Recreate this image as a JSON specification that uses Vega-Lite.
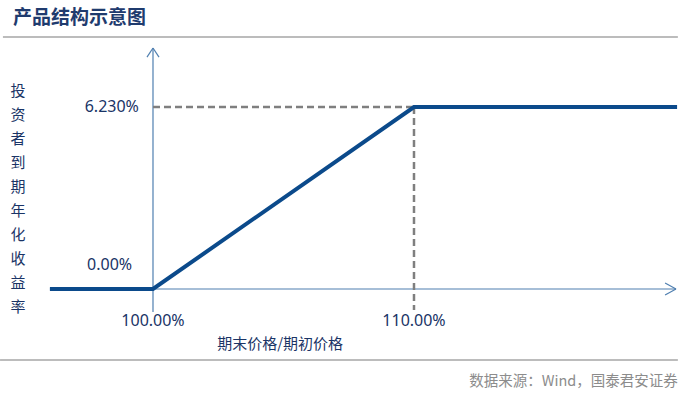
{
  "$schema": "https://vega.github.io/schema/vega-lite/v6.json",
  "width": 693,
  "height": 404,
  "autosize": "none",
  "padding": 0,
  "background": "white",
  "config": {"view": {"stroke": null}, "font": "Noto Sans CJK SC"},
  "datasets": {
    "heading": [
      {"x": 94.636, "y": 9.277, "label": "产品结构示意图"}
    ],
    "payoff": [
      {"ratio": 96.05, "ret": 0},
      {"ratio": 100, "ret": 0},
      {"ratio": 110, "ret": 6.23},
      {"ratio": 120.08, "ret": 6.23}
    ],
    "axes": [
      {"x1": 100, "y1": 8.25, "x2": 100, "y2": -0.787},
      {"x1": 96.05, "y1": 0, "x2": 120.04, "y2": 0},
      {"x1": 100, "y1": 8.25, "x2": 99.77, "y2": 7.94},
      {"x1": 100, "y1": 8.25, "x2": 100.23, "y2": 7.94},
      {"x1": 120.04, "y1": 0, "x2": 119.62, "y2": 0.205},
      {"x1": 120.04, "y1": 0, "x2": 119.62, "y2": -0.205}
    ],
    "guides": [
      {"x1": 100, "y1": 6.23, "x2": 110, "y2": 6.23},
      {"x1": 110, "y1": 6.23, "x2": 110, "y2": -0.72}
    ],
    "frames": [
      {"x1": 94.25, "y1": 8.626, "x2": 120.11, "y2": 8.626},
      {"x1": 94.14, "y1": -2.43, "x2": 120.11, "y2": -2.43}
    ],
    "ylabels": [
      {"x": 99.46, "y": 6.23, "label": "6.230%"},
      {"x": 99.2, "y": 0.82, "label": "0.00%"}
    ],
    "xlabels": [
      {"x": 100, "y": -1.095, "label": "100.00%"},
      {"x": 110, "y": -1.095, "label": "110.00%"}
    ],
    "xtitle": [
      {"x": 104.87, "y": -1.88, "label": "期末价格/期初价格"}
    ],
    "ytitle": [
      {"x": 94.83, "y": 7.02, "label": "投\n资\n者\n到\n期\n年\n化\n收\n益\n率"}
    ],
    "source": [
      {"x": 120.11, "y": -3.18, "label": "数据来源：Wind，国泰君安证券"}
    ]
  },
  "layer": [
    {
      "data": {"name": "frames"},
      "mark": {"type": "rule", "color": "#A6A6A6", "strokeWidth": 1.5},
      "encoding": {
        "x": {"field": "x1", "type": "quantitative", "scale": {"domain": [94.138, 120.69], "nice": false, "zero": false}, "axis": null},
        "y": {"field": "y1", "type": "quantitative", "scale": {"domain": [-3.937, 9.893], "nice": false, "zero": false}, "axis": null},
        "x2": {"field": "x2"},
        "y2": {"field": "y2"}
      }
    },
    {
      "data": {"name": "heading"},
      "mark": {"type": "text", "align": "left", "baseline": "middle", "fontSize": 19, "fontWeight": "bold", "color": "#1F3B6E"},
      "encoding": {
        "x": {"field": "x", "type": "quantitative"},
        "y": {"field": "y", "type": "quantitative"},
        "text": {"field": "label"}
      }
    },
    {
      "data": {"name": "axes"},
      "mark": {"type": "rule", "color": "#4F7FB0", "strokeWidth": 1.2},
      "encoding": {
        "x": {"field": "x1", "type": "quantitative"},
        "y": {"field": "y1", "type": "quantitative"},
        "x2": {"field": "x2"},
        "y2": {"field": "y2"}
      }
    },
    {
      "data": {"name": "guides"},
      "mark": {"type": "rule", "color": "#7F7F7F", "strokeWidth": 2.5, "strokeDash": [7, 4]},
      "encoding": {
        "x": {"field": "x1", "type": "quantitative"},
        "y": {"field": "y1", "type": "quantitative"},
        "x2": {"field": "x2"},
        "y2": {"field": "y2"}
      }
    },
    {
      "data": {"name": "payoff"},
      "mark": {"type": "line", "color": "#0B4A8B", "strokeWidth": 4, "strokeJoin": "miter"},
      "encoding": {
        "x": {"field": "ratio", "type": "quantitative"},
        "y": {"field": "ret", "type": "quantitative"}
      }
    },
    {
      "data": {"name": "ylabels"},
      "mark": {"type": "text", "align": "right", "baseline": "middle", "fontSize": 16, "color": "#1A3466", "font": "Noto Sans"},
      "encoding": {
        "x": {"field": "x", "type": "quantitative"},
        "y": {"field": "y", "type": "quantitative"},
        "text": {"field": "label"}
      }
    },
    {
      "data": {"name": "xlabels"},
      "mark": {"type": "text", "align": "center", "baseline": "middle", "fontSize": 16, "color": "#1A3466", "font": "Noto Sans"},
      "encoding": {
        "x": {"field": "x", "type": "quantitative"},
        "y": {"field": "y", "type": "quantitative"},
        "text": {"field": "label"}
      }
    },
    {
      "data": {"name": "xtitle"},
      "mark": {"type": "text", "align": "center", "baseline": "middle", "fontSize": 15, "color": "#1A3466"},
      "encoding": {
        "x": {"field": "x", "type": "quantitative"},
        "y": {"field": "y", "type": "quantitative"},
        "text": {"field": "label"}
      }
    },
    {
      "data": {"name": "ytitle"},
      "mark": {"type": "text", "align": "center", "baseline": "top", "fontSize": 15, "lineBreak": "\n", "lineHeight": 24, "color": "#1A3466"},
      "encoding": {
        "x": {"field": "x", "type": "quantitative"},
        "y": {"field": "y", "type": "quantitative"},
        "text": {"field": "label"}
      }
    },
    {
      "data": {"name": "source"},
      "mark": {"type": "text", "align": "right", "baseline": "middle", "fontSize": 14.5, "color": "#8C8C8C"},
      "encoding": {
        "x": {"field": "x", "type": "quantitative"},
        "y": {"field": "y", "type": "quantitative"},
        "text": {"field": "label"}
      }
    }
  ]
}
